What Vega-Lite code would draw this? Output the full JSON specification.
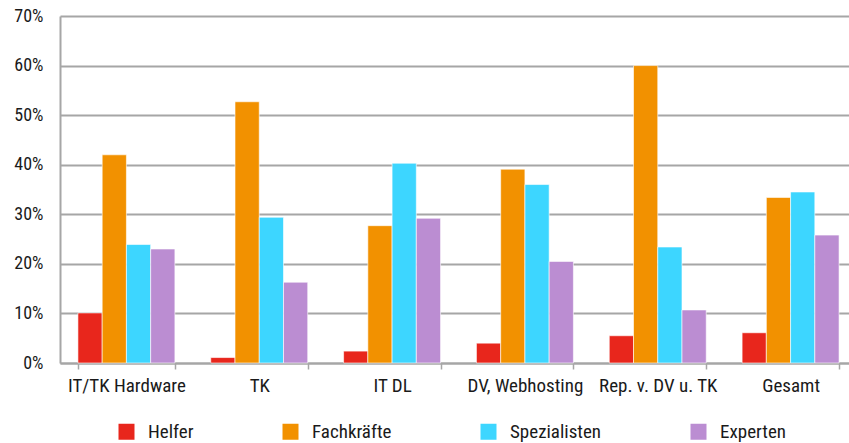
{
  "$schema": "https://vega.github.io/schema/vega-lite/v6.json",
  "autosize": {"type": "none"},
  "width": 797,
  "height": 347,
  "padding": {"left": 60, "top": 16, "right": 0, "bottom": 80},
  "background": "white",
  "data": {
    "values": [
      {"Kategorie": "IT/TK Hardware", "Gruppe": "Helfer", "Anteil": 0.101},
      {"Kategorie": "IT/TK Hardware", "Gruppe": "Fachkräfte", "Anteil": 0.420},
      {"Kategorie": "IT/TK Hardware", "Gruppe": "Spezialisten", "Anteil": 0.239},
      {"Kategorie": "IT/TK Hardware", "Gruppe": "Experten", "Anteil": 0.230},
      {"Kategorie": "TK", "Gruppe": "Helfer", "Anteil": 0.011},
      {"Kategorie": "TK", "Gruppe": "Fachkräfte", "Anteil": 0.527},
      {"Kategorie": "TK", "Gruppe": "Spezialisten", "Anteil": 0.294},
      {"Kategorie": "TK", "Gruppe": "Experten", "Anteil": 0.163},
      {"Kategorie": "IT DL", "Gruppe": "Helfer", "Anteil": 0.024},
      {"Kategorie": "IT DL", "Gruppe": "Fachkräfte", "Anteil": 0.277},
      {"Kategorie": "IT DL", "Gruppe": "Spezialisten", "Anteil": 0.403},
      {"Kategorie": "IT DL", "Gruppe": "Experten", "Anteil": 0.292},
      {"Kategorie": "DV, Webhosting", "Gruppe": "Helfer", "Anteil": 0.040},
      {"Kategorie": "DV, Webhosting", "Gruppe": "Fachkräfte", "Anteil": 0.391},
      {"Kategorie": "DV, Webhosting", "Gruppe": "Spezialisten", "Anteil": 0.360},
      {"Kategorie": "DV, Webhosting", "Gruppe": "Experten", "Anteil": 0.205},
      {"Kategorie": "Rep. v. DV u. TK", "Gruppe": "Helfer", "Anteil": 0.055},
      {"Kategorie": "Rep. v. DV u. TK", "Gruppe": "Fachkräfte", "Anteil": 0.600},
      {"Kategorie": "Rep. v. DV u. TK", "Gruppe": "Spezialisten", "Anteil": 0.234},
      {"Kategorie": "Rep. v. DV u. TK", "Gruppe": "Experten", "Anteil": 0.107},
      {"Kategorie": "Gesamt", "Gruppe": "Helfer", "Anteil": 0.061},
      {"Kategorie": "Gesamt", "Gruppe": "Fachkräfte", "Anteil": 0.334},
      {"Kategorie": "Gesamt", "Gruppe": "Spezialisten", "Anteil": 0.345},
      {"Kategorie": "Gesamt", "Gruppe": "Experten", "Anteil": 0.258}
    ]
  },
  "mark": {"type": "bar", "stroke": "white", "strokeWidth": 0.6},
  "encoding": {
    "x": {
      "field": "Kategorie",
      "type": "nominal",
      "sort": ["IT/TK Hardware", "TK", "IT DL", "DV, Webhosting", "Rep. v. DV u. TK", "Gesamt"],
      "scale": {"paddingInner": 0.27, "paddingOuter": 0.135},
      "axis": {
        "title": null,
        "labelAngle": 0,
        "tickBand": "extent",
        "domainColor": "#A6A6A6",
        "domainWidth": 2,
        "tickColor": "#A6A6A6",
        "tickWidth": 1.5,
        "tickSize": 6,
        "labelPadding": 7,
        "labelFont": "Roboto Condensed, DejaVu Sans Condensed, Roboto, sans-serif",
        "labelFontSize": 19,
        "labelColor": "#1a1a1a"
      }
    },
    "xOffset": {
      "field": "Gruppe",
      "type": "nominal",
      "sort": ["Helfer", "Fachkräfte", "Spezialisten", "Experten"],
      "scale": {"paddingInner": 0, "paddingOuter": 0}
    },
    "y": {
      "field": "Anteil",
      "type": "quantitative",
      "scale": {"domain": [0, 0.7]},
      "axis": {
        "title": null,
        "format": ".0%",
        "values": [0, 0.1, 0.2, 0.3, 0.4, 0.5, 0.6, 0.7],
        "grid": true,
        "gridColor": "#A6A6A6",
        "gridWidth": 2,
        "domainColor": "#A6A6A6",
        "domainWidth": 2,
        "ticks": false,
        "labelPadding": 17,
        "labelFont": "Roboto Condensed, DejaVu Sans Condensed, Roboto, sans-serif",
        "labelFontSize": 18,
        "labelColor": "#1a1a1a"
      }
    },
    "color": {
      "field": "Gruppe",
      "type": "nominal",
      "sort": ["Helfer", "Fachkräfte", "Spezialisten", "Experten"],
      "scale": {
        "domain": ["Helfer", "Fachkräfte", "Spezialisten", "Experten"],
        "range": ["#E8261C", "#F29100", "#3DD6FF", "#BB8DD2"]
      },
      "legend": {
        "title": null,
        "orient": "none",
        "direction": "horizontal",
        "legendX": 57,
        "legendY": 406,
        "padding": 0,
        "columnPadding": 87,
        "symbolType": "square",
        "symbolSize": 256,
        "symbolStrokeWidth": 0,
        "labelOffset": 12,
        "labelFont": "Roboto Condensed, DejaVu Sans Condensed, Roboto, sans-serif",
        "labelFontSize": 19,
        "labelColor": "#1a1a1a"
      }
    }
  },
  "config": {"view": {"stroke": null}}
}
